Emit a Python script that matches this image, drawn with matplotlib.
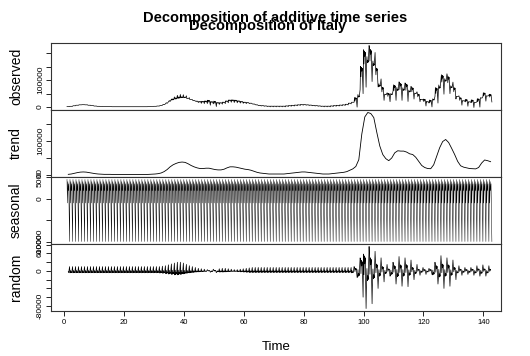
import numpy as np
import matplotlib.pyplot as plt

plt.rcParams['font.family'] = ['Liberation Sans', 'DejaVu Sans']

# weekly trend level (thousands), t = 1..142
trend_k = [2, 3, 5, 7, 8.5, 9, 8.5, 7, 5.5, 4,
           3, 2.5, 2, 2, 2, 1.5, 1.5, 1.5, 1.5, 1.5,
           1.5, 1.5, 1.5, 1.5, 1.5, 1.5, 1.5, 2, 2.5, 3,
           4, 6, 10, 16, 24, 30, 34, 37, 38, 37,
           33, 28, 24, 21, 19, 19, 20, 20, 18, 16,
           15, 15, 17, 21, 24, 24, 23, 21, 19, 17,
           16, 14, 11, 8, 6, 5, 4, 3, 3, 3,
           3, 3, 3, 4, 5, 6, 7, 8, 9, 9,
           8, 7, 6, 5, 4, 3, 3, 3, 4, 5,
           6, 7, 8, 10, 14, 18, 25, 45, 120, 170,
           183, 180, 168, 125, 85, 60, 48, 42, 50, 65,
           71, 70, 70, 67, 62, 60, 52, 40, 28, 22,
           19, 18.5, 30, 55, 80, 98, 104, 95, 78, 60,
           40, 27, 23, 21, 19, 18.5, 18, 22, 35, 44,
           42, 39]

# weekly seasonal figure (day 1..7)
seasonal_week = [4500, -1000, 4000, 1900, 3500, -2900, -10000]

# size of the remainder in each week (value on day 7)
resid_amp = [10000] * 30 + [
    10000, 11000, 12000, 14000, 16000, 18000, 20000, 20000, 18000, 15000,
    12000, 10000, 8000, 6000, 5000, 4000, 3000, -3000, 4000, -4000,
    5000, 6000, 6000, 5000, 4000, 3000, 3000, 4000, 5000, 6000,
    7000] + [8000] * 34 + [
    10000, -15000, 30000, -60000, -86000,
    56000, -75000, 45000, -40000, 30000, -25000, 15000, -12000, 20000, -30000,
    33000, -35000, 30000, -36000, 25000, -20000, 15000, -10000, 8000, -8000,
    6000, -8000, 20000, -30000, 35000, -40000, 30000, -35000, 25000, -20000,
    12000, -10000, 8000, -8000, 8000, -10000, 12000, -12000, 14000, -12000,
    12000, -10000]

trend_w = np.array(trend_k) * 1000.0
nw = len(trend_w)
t = 1 + np.arange(nw * 7) / 7.0
seasonal = np.tile(seasonal_week, nw).astype(float)
shape = -np.array(seasonal_week) / 10000.0
random = np.repeat(resid_amp, 7) * np.tile(shape, nw)
observed = np.repeat(trend_w, 7) + seasonal + random
random[:3] = np.nan
random[-3:] = np.nan
trend_t = np.arange(nw) + 1 + 3 / 7.0

fig = plt.figure(figsize=(5.3, 3.56), dpi=100)
axes = fig.subplots(4, 1, sharex=True,
                    gridspec_kw=dict(hspace=0, left=51/530, right=501/530,
                                     top=1-43/356, bottom=1-311/356))

panels = [
    ('observed', t, observed, [0, 50000, 100000, 150000, 200000],
     ['0', '', '100000', '', ''], 0.5),
    ('trend', trend_t, trend_w, [0, 50000, 100000, 150000],
     ['0', '', '100000', ''], 0.6),
    ('seasonal', t, seasonal, [5000, 0, -5000, -10000],
     ['5000', '0', '', '-10000'], 0.35),
    ('random', t, random, list(range(-80000, 60001, 20000)),
     ['-80000', '', '', '', '0', '', '', '60000'], 0.5),
]

for ax, (name, x, y, ticks, labels, lw) in zip(axes, panels):
    ax.plot(x, y, color='black', lw=lw)
    lo, hi = np.nanmin(y), np.nanmax(y)
    pad = 0.04 * (hi - lo)
    ax.set_ylim(lo - pad, hi + pad)
    ax.set_yticks(ticks)
    ax.set_yticklabels(labels, rotation=90, va='center', fontsize=6)
    ax.tick_params(axis='y', length=3.5, width=0.6, pad=1.5)
    ax.set_ylabel(name, fontsize=10)
    ax.yaxis.set_label_coords(-0.062, 0.5)
    for s in ax.spines.values():
        s.set_linewidth(0.8)
        s.set_color('#333333')

ax = axes[-1]
ax.set_xlim(-4.34, 145.9)
ax.set_xticks(range(0, 141, 20))
ax.tick_params(axis='x', length=3.5, width=0.6, pad=2, labelsize=5.5)
for a in axes[:-1]:
    a.tick_params(axis='x', length=0)
ax.set_xlabel('Time', fontsize=9.5, labelpad=11)

fig.text(0.52, 0.95, 'Decomposition of additive time series',
         ha='center', va='center', fontsize=10.5, fontweight='bold')
fig.text(0.505, 0.928, 'Decomposition of Italy',
         ha='center', va='center', fontsize=10.5, fontweight='bold')

fig.savefig('out.png', dpi=100)
